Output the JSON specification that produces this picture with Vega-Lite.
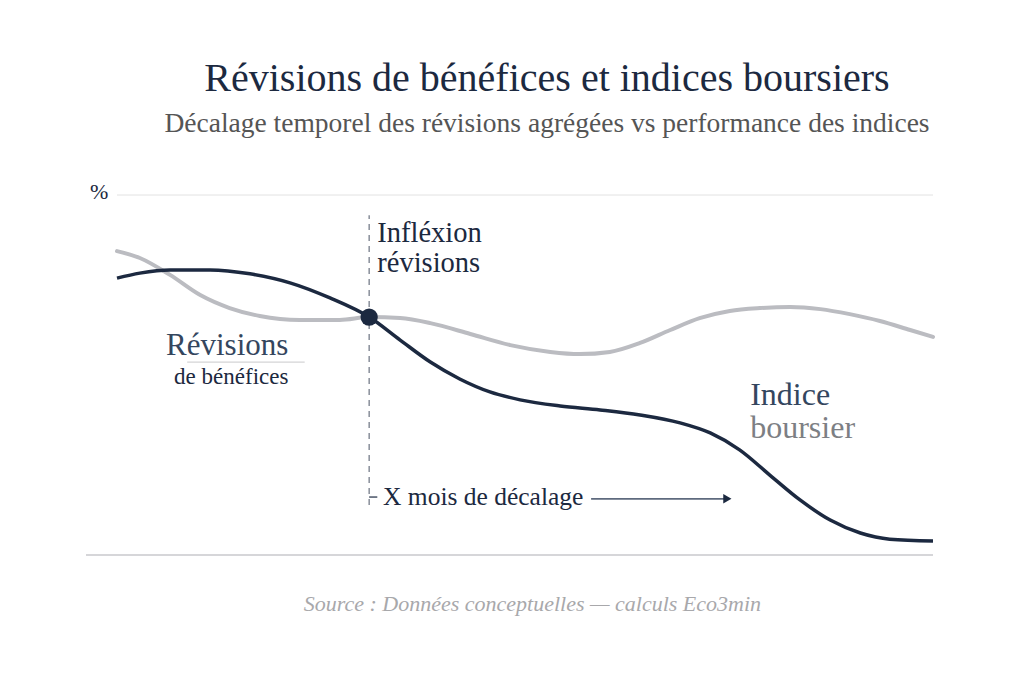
{
  "$schema": "https://vega.github.io/schema/vega-lite/v6.json",
  "autosize": {"type": "none"},
  "width": 816,
  "height": 360,
  "padding": {"left": 117, "top": 195, "right": 91, "bottom": 128},
  "background": "white",
  "title": {
    "text": "Révisions de bénéfices et indices boursiers",
    "subtitle": "Décalage temporel des révisions agrégées vs performance des indices",
    "anchor": "middle",
    "dx": 22,
    "offset": 44,
    "font": "Liberation Serif",
    "fontSize": 40,
    "fontWeight": "normal",
    "color": "#1c2940",
    "subtitleFont": "Liberation Serif",
    "subtitleFontSize": 27.5,
    "subtitleColor": "#555555",
    "subtitlePadding": 11
  },
  "datasets": {
    "series": [
      {"serie": "revisions", "t": 0, "v": 84.4},
      {"serie": "revisions", "t": 2.8, "v": 82.5},
      {"serie": "revisions", "t": 6.5, "v": 77.8},
      {"serie": "revisions", "t": 10.2, "v": 72.2},
      {"serie": "revisions", "t": 13.8, "v": 68.6},
      {"serie": "revisions", "t": 17.5, "v": 66.4},
      {"serie": "revisions", "t": 22.4, "v": 65.3},
      {"serie": "revisions", "t": 27.3, "v": 65.3},
      {"serie": "revisions", "t": 30.9, "v": 66.1},
      {"serie": "revisions", "t": 34.7, "v": 65.8},
      {"serie": "revisions", "t": 38.4, "v": 64.4},
      {"serie": "revisions", "t": 43.3, "v": 61.4},
      {"serie": "revisions", "t": 48.2, "v": 58.3},
      {"serie": "revisions", "t": 53.1, "v": 56.4},
      {"serie": "revisions", "t": 56.7, "v": 55.8},
      {"serie": "revisions", "t": 60.4, "v": 56.4},
      {"serie": "revisions", "t": 64.1, "v": 58.9},
      {"serie": "revisions", "t": 67.8, "v": 62.5},
      {"serie": "revisions", "t": 71.4, "v": 65.8},
      {"serie": "revisions", "t": 75.1, "v": 67.8},
      {"serie": "revisions", "t": 78.8, "v": 68.6},
      {"serie": "revisions", "t": 82.5, "v": 68.9},
      {"serie": "revisions", "t": 86.2, "v": 68.3},
      {"serie": "revisions", "t": 89.8, "v": 66.9},
      {"serie": "revisions", "t": 93.5, "v": 65.0},
      {"serie": "revisions", "t": 97.2, "v": 62.5},
      {"serie": "revisions", "t": 100, "v": 60.6},
      {"serie": "indice", "t": 0, "v": 76.9},
      {"serie": "indice", "t": 2.8, "v": 78.3},
      {"serie": "indice", "t": 6.5, "v": 79.2},
      {"serie": "indice", "t": 11.4, "v": 79.2},
      {"serie": "indice", "t": 16.3, "v": 78.1},
      {"serie": "indice", "t": 21.2, "v": 75.6},
      {"serie": "indice", "t": 26.1, "v": 71.4},
      {"serie": "indice", "t": 30.9, "v": 66.1},
      {"serie": "indice", "t": 34.7, "v": 59.7},
      {"serie": "indice", "t": 38.4, "v": 53.6},
      {"serie": "indice", "t": 42.0, "v": 48.9},
      {"serie": "indice", "t": 45.7, "v": 45.3},
      {"serie": "indice", "t": 49.4, "v": 43.1},
      {"serie": "indice", "t": 54.3, "v": 41.4},
      {"serie": "indice", "t": 59.2, "v": 40.3},
      {"serie": "indice", "t": 64.1, "v": 38.9},
      {"serie": "indice", "t": 69.0, "v": 36.7},
      {"serie": "indice", "t": 72.7, "v": 33.9},
      {"serie": "indice", "t": 76.3, "v": 29.2},
      {"serie": "indice", "t": 80.0, "v": 22.2},
      {"serie": "indice", "t": 83.7, "v": 15.3},
      {"serie": "indice", "t": 87.4, "v": 9.7},
      {"serie": "indice", "t": 91.1, "v": 6.1},
      {"serie": "indice", "t": 94.7, "v": 4.4},
      {"serie": "indice", "t": 100, "v": 3.9}
    ],
    "labels": [
      {"role": "unite", "label": "%", "t": -2.2, "v": 98.8},
      {"role": "inflexion", "label": "Infléxion", "t": 31.9, "v": 86.9},
      {"role": "inflexion", "label": "révisions", "t": 31.9, "v": 78.6},
      {"role": "rev_titre", "label": "Révisions", "t": 13.5, "v": 55.6},
      {"role": "rev_sous", "label": "de bénéfices", "t": 14.0, "v": 47.5},
      {"role": "ind_titre", "label": "Indice", "t": 77.6, "v": 41.7},
      {"role": "ind_sous", "label": "boursier", "t": 77.6, "v": 32.5},
      {"role": "decalage", "label": "X mois de décalage", "t": 32.6, "v": 13.9}
    ]
  },
  "encoding": {
    "x": {"type": "quantitative", "scale": {"domain": [0, 100], "nice": false, "zero": false}, "axis": null},
    "y": {"type": "quantitative", "scale": {"domain": [0, 100], "nice": false, "zero": false}, "axis": null}
  },
  "layer": [
    {
      "data": {"values": [{"v": 100}]},
      "mark": {"type": "rule", "color": "#e2e2e2", "strokeWidth": 1},
      "encoding": {"y": {"field": "v", "type": "quantitative"}}
    },
    {
      "data": {"values": [{"t0": -3.8, "t1": 100, "v": 0}]},
      "mark": {"type": "rule", "color": "#c9c9cc", "strokeWidth": 1.3, "clip": false},
      "encoding": {
        "x": {"field": "t0", "type": "quantitative"},
        "x2": {"field": "t1"},
        "y": {"field": "v", "type": "quantitative"}
      }
    },
    {
      "data": {"name": "series"},
      "transform": [{"filter": "datum.serie == 'revisions'"}],
      "mark": {"type": "line", "interpolate": "monotone", "color": "#bbbcc1", "strokeWidth": 4, "strokeCap": "round"},
      "encoding": {
        "x": {"field": "t", "type": "quantitative"},
        "y": {"field": "v", "type": "quantitative"}
      }
    },
    {
      "data": {"name": "series"},
      "transform": [{"filter": "datum.serie == 'indice'"}],
      "mark": {"type": "line", "interpolate": "monotone", "color": "#1c2940", "strokeWidth": 3.5},
      "encoding": {
        "x": {"field": "t", "type": "quantitative"},
        "y": {"field": "v", "type": "quantitative"}
      }
    },
    {
      "data": {"values": [{"t": 30.9, "v0": 13.9, "v1": 94.4}]},
      "mark": {"type": "rule", "color": "#6b7280", "strokeWidth": 1.2, "strokeDash": [6, 5]},
      "encoding": {
        "x": {"field": "t", "type": "quantitative"},
        "y": {"field": "v0", "type": "quantitative"},
        "y2": {"field": "v1"}
      }
    },
    {
      "data": {"values": [{"t": 30.9, "v": 66.1}]},
      "mark": {"type": "point", "filled": true, "shape": "circle", "size": 300, "color": "#1c2940", "opacity": 1},
      "encoding": {
        "x": {"field": "t", "type": "quantitative"},
        "y": {"field": "v", "type": "quantitative"}
      }
    },
    {
      "data": {"values": [{"t0": 30.9, "t1": 31.9, "v": 16.1}]},
      "mark": {"type": "rule", "color": "#1c2940", "strokeWidth": 1.2},
      "encoding": {
        "x": {"field": "t0", "type": "quantitative"},
        "x2": {"field": "t1"},
        "y": {"field": "v", "type": "quantitative"}
      }
    },
    {
      "data": {"values": [{"t0": 58.1, "t1": 74.5, "v": 15.6}]},
      "mark": {"type": "rule", "color": "#5e6a7e", "strokeWidth": 1.6},
      "encoding": {
        "x": {"field": "t0", "type": "quantitative"},
        "x2": {"field": "t1"},
        "y": {"field": "v", "type": "quantitative"}
      }
    },
    {
      "data": {"values": [{"t": 74.8, "v": 15.6}]},
      "mark": {"type": "point", "filled": true, "shape": "triangle-right", "size": 90, "color": "#1c2940", "opacity": 1},
      "encoding": {
        "x": {"field": "t", "type": "quantitative"},
        "y": {"field": "v", "type": "quantitative"}
      }
    },
    {
      "data": {"values": [{"t0": 8.6, "t1": 23.0, "v": 53.6}]},
      "mark": {"type": "rule", "color": "#d4d4d6", "strokeWidth": 1.2},
      "encoding": {
        "x": {"field": "t0", "type": "quantitative"},
        "x2": {"field": "t1"},
        "y": {"field": "v", "type": "quantitative"}
      }
    },
    {
      "data": {"name": "labels"},
      "transform": [{"filter": "datum.role == 'unite'"}],
      "mark": {"type": "text", "font": "Liberation Serif", "fontSize": 22, "color": "#1c2940", "align": "center", "baseline": "alphabetic", "clip": false},
      "encoding": {
        "x": {"field": "t", "type": "quantitative"},
        "y": {"field": "v", "type": "quantitative"},
        "text": {"field": "label"}
      }
    },
    {
      "data": {"name": "labels"},
      "transform": [{"filter": "datum.role == 'inflexion'"}],
      "mark": {"type": "text", "font": "Liberation Serif", "fontSize": 28.5, "color": "#1c2940", "align": "left", "baseline": "alphabetic", "clip": false},
      "encoding": {
        "x": {"field": "t", "type": "quantitative"},
        "y": {"field": "v", "type": "quantitative"},
        "text": {"field": "label"}
      }
    },
    {
      "data": {"name": "labels"},
      "transform": [{"filter": "datum.role == 'rev_titre'"}],
      "mark": {"type": "text", "font": "Liberation Serif", "fontSize": 31, "color": "#34465e", "align": "center", "baseline": "alphabetic", "clip": false},
      "encoding": {
        "x": {"field": "t", "type": "quantitative"},
        "y": {"field": "v", "type": "quantitative"},
        "text": {"field": "label"}
      }
    },
    {
      "data": {"name": "labels"},
      "transform": [{"filter": "datum.role == 'rev_sous'"}],
      "mark": {"type": "text", "font": "Liberation Serif", "fontSize": 23, "color": "#1c2940", "align": "center", "baseline": "alphabetic", "clip": false},
      "encoding": {
        "x": {"field": "t", "type": "quantitative"},
        "y": {"field": "v", "type": "quantitative"},
        "text": {"field": "label"}
      }
    },
    {
      "data": {"name": "labels"},
      "transform": [{"filter": "datum.role == 'ind_titre'"}],
      "mark": {"type": "text", "font": "Liberation Serif", "fontSize": 32, "color": "#34465e", "align": "left", "baseline": "alphabetic", "clip": false},
      "encoding": {
        "x": {"field": "t", "type": "quantitative"},
        "y": {"field": "v", "type": "quantitative"},
        "text": {"field": "label"}
      }
    },
    {
      "data": {"name": "labels"},
      "transform": [{"filter": "datum.role == 'ind_sous'"}],
      "mark": {"type": "text", "font": "Liberation Serif", "fontSize": 32, "color": "#7d7f84", "align": "left", "baseline": "alphabetic", "clip": false},
      "encoding": {
        "x": {"field": "t", "type": "quantitative"},
        "y": {"field": "v", "type": "quantitative"},
        "text": {"field": "label"}
      }
    },
    {
      "data": {"name": "labels"},
      "transform": [{"filter": "datum.role == 'decalage'"}],
      "mark": {"type": "text", "font": "Liberation Serif", "fontSize": 25.5, "color": "#1c2940", "align": "left", "baseline": "alphabetic", "clip": false},
      "encoding": {
        "x": {"field": "t", "type": "quantitative"},
        "y": {"field": "v", "type": "quantitative"},
        "text": {"field": "label"}
      }
    },
    {
      "data": {"values": [{"label": "Source : Données conceptuelles — calculs Eco3min", "t": 50.9, "v": -15.6}]},
      "mark": {"type": "text", "font": "Liberation Serif", "fontStyle": "italic", "fontSize": 22, "color": "#a8a8ab", "align": "center", "baseline": "alphabetic", "clip": false},
      "encoding": {
        "x": {"field": "t", "type": "quantitative"},
        "y": {"field": "v", "type": "quantitative"},
        "text": {"field": "label"}
      }
    }
  ],
  "config": {"view": {"stroke": null}}
}
